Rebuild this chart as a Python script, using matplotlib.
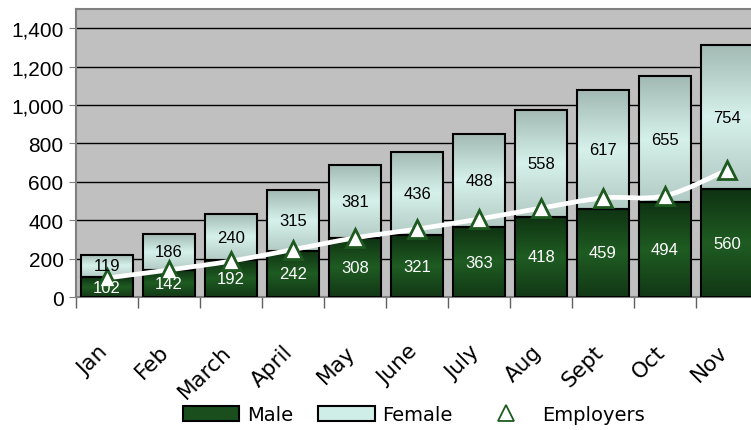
import numpy as np
import matplotlib
matplotlib.use("Agg")
import matplotlib.pyplot as plt
from matplotlib.path import Path
from matplotlib.patches import PathPatch, Patch
from matplotlib.lines import Line2D
from matplotlib.colors import LinearSegmentedColormap
import matplotlib.transforms as mtransforms

months = ["Jan", "Feb", "March", "April", "May", "June", "July", "Aug", "Sept", "Oct", "Nov"]
male = [102, 142, 192, 242, 308, 321, 363, 418, 459, 494, 560]
female = [119, 186, 240, 315, 381, 436, 488, 558, 617, 655, 754]
employers = [99, 141, 187, 247, 308, 354, 406, 463, 516, 527, 661]
yticks = [0, 200, 400, 600, 800, 1000, 1200, 1400]

W, H = 751, 431
fig = plt.figure(figsize=(W / 100, H / 100), dpi=100)
ax = fig.add_axes([76 / W, (H - 298) / H, (758 - 76) / W, 288 / H])
ax.set_facecolor("#c0c0c0")

x = np.arange(len(months))
bw = 0.84

male_cmap = LinearSegmentedColormap.from_list("m", ["#0f3312", "#1f5c22", "#123816"])
fem_cmap = LinearSegmentedColormap.from_list("f", ["#a2bab3", "#d6f1eb", "#b3cbc4"])
grad = np.linspace(0, 1, 64).reshape(-1, 1)

for xi, m, f in zip(x, male, female):
    ax.imshow(grad, cmap=male_cmap, aspect="auto", origin="upper",
              extent=[xi - bw / 2, xi + bw / 2, 0, m], zorder=2, interpolation="bilinear")
    ax.imshow(grad, cmap=fem_cmap, aspect="auto", origin="upper",
              extent=[xi - bw / 2, xi + bw / 2, m, m + f], zorder=2, interpolation="bilinear")

ax.bar(x, male, width=bw, facecolor="none", edgecolor="black", linewidth=1.5, zorder=3)
ax.bar(x, female, bottom=male, width=bw, facecolor="none", edgecolor="black", linewidth=1.5, zorder=3)

# smoothed employers line (Catmull-Rom style Bezier through the data points)
pts = np.column_stack([x, employers]).astype(float)
verts = [tuple(pts[0])]
codes = [Path.MOVETO]
n = len(pts)
for i in range(n - 1):
    p0 = pts[max(i - 1, 0)]
    p1 = pts[i]
    p2 = pts[i + 1]
    p3 = pts[min(i + 2, n - 1)]
    c1 = p1 + (p2 - p0) / 6
    c2 = p2 - (p3 - p1) / 6
    verts += [tuple(c1), tuple(c2), tuple(p2)]
    codes += [Path.CURVE4] * 3
ax.add_patch(PathPatch(Path(verts, codes), facecolor="none", edgecolor="white",
                       linewidth=3.4, zorder=4, capstyle="round"))
ax.plot(x, employers, linestyle="none", marker="^", markersize=13,
        markerfacecolor="white", markeredgecolor="#1e5a20", markeredgewidth=2, zorder=5)

numfont = "Liberation Sans"
for xi, m, f in zip(x, male, female):
    ax.text(xi, m / 2, str(m), ha="center", va="center", color="white",
            fontsize=12, family=numfont, zorder=6)
    ax.text(xi, m + f / 2, str(f), ha="center", va="center", color="black",
            fontsize=12, family=numfont, zorder=6)

ax.set_xlim(-0.5, len(months) - 0.5)
ax.set_ylim(0, 1500)
ax.set_yticks(yticks)
ax.set_yticklabels([f"{v:,}" for v in yticks], fontsize=15, family=numfont)
ax.yaxis.grid(True, color="black", linewidth=1)
ax.set_axisbelow(True)
ax.tick_params(axis="y", length=5, color="#808080", pad=4)

ax.set_xticks(np.arange(len(months) + 1) - 0.5)
ax.set_xticklabels([])
ax.tick_params(axis="x", length=8, color="#606060", width=1)

for s in ["left", "top", "bottom", "right"]:
    ax.spines[s].set_color("#808080")
    ax.spines[s].set_linewidth(1.5)

trans = mtransforms.blended_transform_factory(ax.transData, ax.transAxes)
trans = mtransforms.offset_copy(trans, fig=fig, x=-10, y=-44, units="dots")
for xi, lab in zip(x, months):
    ax.text(xi, 0, lab, transform=trans, ha="right", va="top", rotation=45,
            rotation_mode="anchor", fontsize=15.5, family="DejaVu Sans")

handles = [
    Patch(facecolor="#1a4f1d", edgecolor="black", linewidth=1.5, label="Male"),
    Patch(facecolor="#d0eee8", edgecolor="black", linewidth=1.5, label="Female"),
    Line2D([], [], linestyle="none", marker="^", markersize=12, markerfacecolor="white",
           markeredgecolor="#1e5a20", markeredgewidth=1.3, label="Employers"),
]
fig.legend(handles=handles, loc="center", bbox_to_anchor=(414 / W, 1 - 416 / H),
           ncol=3, frameon=False, fontsize=14, handlelength=2.9, handleheight=0.8,
           handletextpad=0.4, columnspacing=1.3, borderpad=0.2)

fig.savefig("out.png", dpi=100)
